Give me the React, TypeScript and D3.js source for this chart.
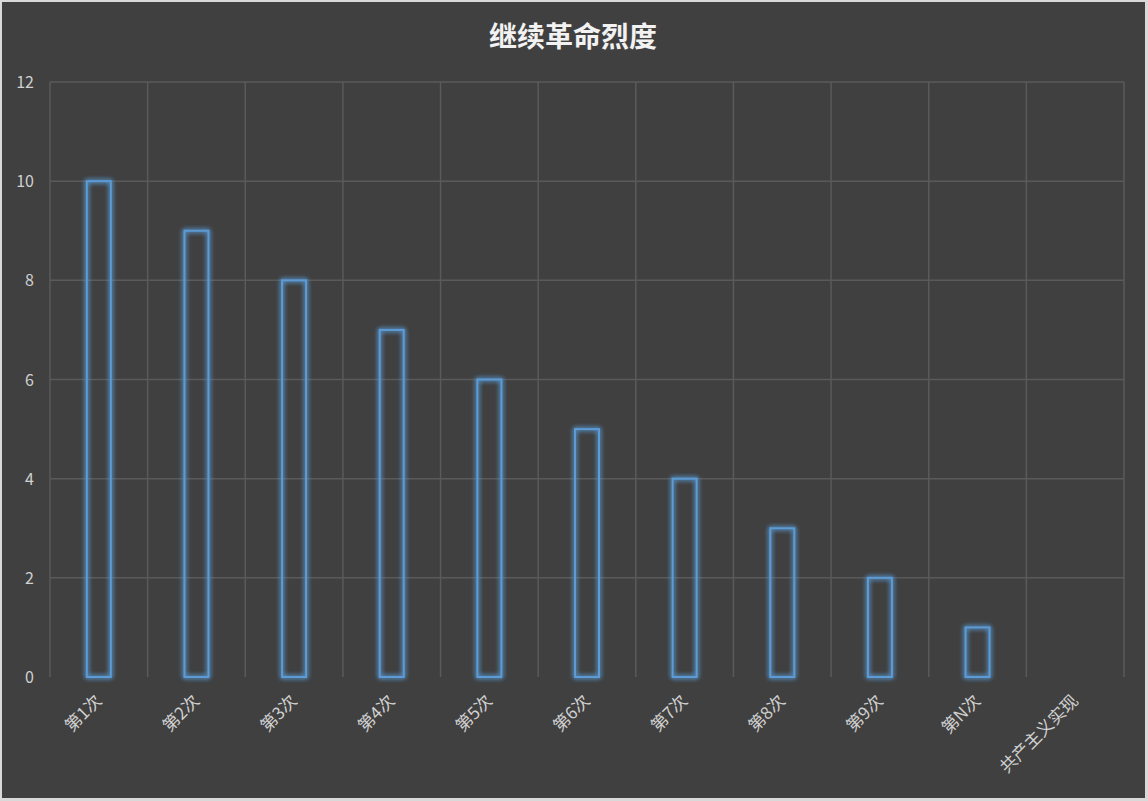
import React from "react";
import * as d3 from "d3";

const categories = ["第1次", "第2次", "第3次", "第4次", "第5次", "第6次", "第7次", "第8次", "第9次", "第N次", "共产主义实现"];
const values: (number | null)[] = [10, 9, 8, 7, 6, 5, 4, 3, 2, 1, null];
const yTicks = [0, 2, 4, 6, 8, 10, 12];
const title = "继续革命烈度";

const W = 1148;
const H = 801;
const plot = { left: 50, right: 1124, top: 82, bottom: 677 };

export default function App() {
  const x = d3.scaleBand<string>().domain(categories).range([plot.left, plot.right]).paddingInner(0).paddingOuter(0);
  const y = d3.scaleLinear().domain([0, 12]).range([plot.bottom, plot.top]);
  const barW = 24;
  const font = "'Microsoft YaHei', 'Noto Sans CJK SC', 'Noto Sans', sans-serif";
  const boundaries = [...categories.map((c) => x(c) as number), plot.right];

  return (
    <svg width={W} height={H} style={{ position: "fixed", left: 0, top: 0 }} fontFamily={font}>
      <defs>
        <filter id="glow" x="-50%" y="-20%" width="200%" height="140%">
          <feGaussianBlur in="SourceGraphic" stdDeviation="2.5" result="b" />
          <feMerge>
            <feMergeNode in="b" />
            <feMergeNode in="b" />
            <feMergeNode in="SourceGraphic" />
          </feMerge>
        </filter>
      </defs>
      <rect x={0} y={0} width={W} height={H} fill="#d9d9d9" />
      <rect x={2} y={2} width={W - 5} height={H - 5} fill="#404040" />
      <text x={573} y={47} textAnchor="middle" fill="#f2f2f2" fontSize={28} fontWeight="bold">
        {title}
      </text>
      {yTicks.map((t) => (
        <g key={t}>
          {t > 0 && (
            <line x1={plot.left} x2={plot.right} y1={y(t)} y2={y(t)} stroke="#5a5a5a" strokeWidth={1.5} />
          )}
          <text x={34} y={y(t) + 6} textAnchor="end" fill="#d0d0d0" fontSize={16}>
            {t}
          </text>
        </g>
      ))}
      {boundaries.map((bx, i) => (
        <line key={i} x1={bx} x2={bx} y1={plot.top} y2={plot.bottom} stroke="#5a5a5a" strokeWidth={1.5} />
      ))}
      {categories.map((c, i) => {
        const v = values[i];
        if (v == null) return null;
        const cx = (x(c) as number) + x.bandwidth() / 2;
        return (
          <rect
            key={c}
            x={cx - barW / 2}
            y={y(v)}
            width={barW}
            height={y(0) - y(v)}
            fill="none"
            stroke="#5b9bd5"
            strokeWidth={2}
            filter="url(#glow)"
          />
        );
      })}
      {categories.map((c) => {
        const cx = (x(c) as number) + x.bandwidth() / 2;
        return (
          <text
            key={c}
            transform={`translate(${cx + 4},${plot.bottom + 25}) rotate(-45)`}
            textAnchor="end"
            fill="#d0d0d0"
            fontSize={17}
          >
            {c}
          </text>
        );
      })}
    </svg>
  );
}
